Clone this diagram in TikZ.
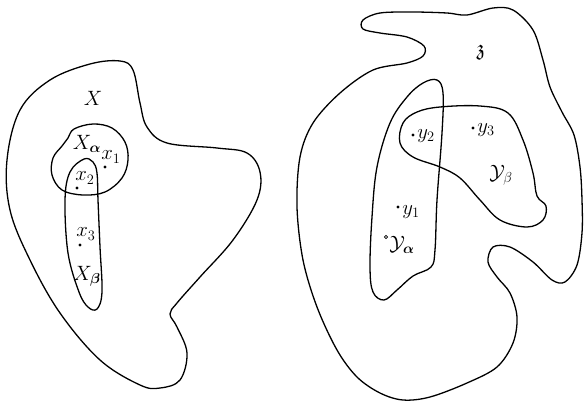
\documentclass[tikz,border=0pt]{standalone}
\usepackage{amsmath,amssymb}
\begin{document}
\begin{tikzpicture}[x=1pt,y=-1pt,
  curve/.style={draw=black,line width=1.3pt,line join=round},
  lbl/.style={inner sep=0pt,font=\fontsize{22}{22}\selectfont},
  pt/.style={circle,fill=black,inner sep=0pt,minimum size=3.2pt}]
\useasboundingbox (0,0) rectangle (584,405);
% Set X
\draw[curve] plot[smooth cycle,tension=0.6] coordinates{
 (120,61) (133,70) (140,103) (147,127) (167,143) (217,148) (247,153) (260,172)
 (257,200) (233,240) (200,277) (177,303) (170,314) (177,327) (187,353) (180,380)
 (160,388) (140,385) (100,360) (60,313) (30,260) (10,210) (7,160) (20,110) (50,80) (90,64)};
% X_alpha
\draw[curve] plot[smooth cycle,tension=0.6] coordinates{
 (74,129) (93,124) (112,128) (125,142) (128,160) (122,178) (105,192) (83,195) (62,190)
 (52,175) (53,158) (62,146) (68,138)};
% X_beta
\draw[curve] plot[smooth cycle,tension=0.6] coordinates{
 (84,159) (93,162) (97,173) (98,200) (100,247) (102,292) (97,309) (88,307) (79,292) (68,253) (65,200) (70,172)};
% Set Z
\draw[curve] plot[smooth cycle,tension=0.55] coordinates{
 (363,20) (380,13) (413,12) (447,13) (467,15) (493,8) (513,10) (533,30) (543,60) (550,87)
 (562,112) (574,135) (580,167) (582,200) (582,233) (577,265) (565,282) (552,280) (533,262)
 (510,247) (493,247) (488,262) (497,277) (510,293) (517,317) (513,343) (497,367) (467,383)
 (430,397) (403,400) (380,393) (357,377) (337,350) (317,307) (303,260) (297,207) (300,157)
 (313,123) (340,93) (373,70) (407,63) (423,56) (424,46) (407,37) (380,33) (363,29)};
% Y_alpha
\draw[curve] plot[smooth cycle,tension=0.6] coordinates{
 (437,80) (443,93) (442,133) (437,200) (435,250) (431,267) (413,276) (397,290) (384,300)
 (373,292) (370,267) (372,217) (377,167) (390,123) (407,97) (423,83)};
% Y_beta
\draw[curve] plot[smooth cycle,tension=0.6] coordinates{
 (440,107) (480,106) (508,113) (523,140) (533,173) (537,196) (546,206) (543,220) (527,227)
 (500,220) (480,200) (460,178) (440,167) (413,157) (400,143) (403,123) (417,112)};
% Labels left
\node[lbl] (lX) at (93,98) {$X$};
\node[lbl] (lXa) at (87,144) {$X_{\boldsymbol\alpha}$};
\node[pt] (p1) at (105,167) {};
\node[lbl] (l1) at (111,157) {$x_1$};
\node[pt] (p2) at (77,188) {};
\node[lbl] (l2) at (85,178) {$x_2$};
\node[pt] (p3) at (80,245) {};
\node[lbl] (l3) at (86,234) {$x_3$};
\node[lbl] (lXb) at (87,276) {$X_{\boldsymbol\beta}$};
% Labels right
\node[lbl] (lZ) at (481,52) {$\mathfrak{z}$};
\node[pt] (q2) at (413,135) {};
\node[lbl] (m2) at (426,136) {$y_2$};
\node[pt] (q3) at (473,128) {};
\node[lbl] (m3) at (486,130) {$y_3$};
\node[lbl] (lYb) at (501,175) {$\mathcal{Y}_{\beta}$};
\node[pt] (q1) at (398,207) {};
\node[lbl] (m1) at (411,212) {$y_1$};
\node[circle,draw,inner sep=0pt,minimum size=3.2pt,line width=0.7pt] (qa) at (386,237) {};
\node[lbl] (lYa) at (402,245) {$\mathcal{Y}_{\boldsymbol\alpha}$};
\end{tikzpicture}
\end{document}
